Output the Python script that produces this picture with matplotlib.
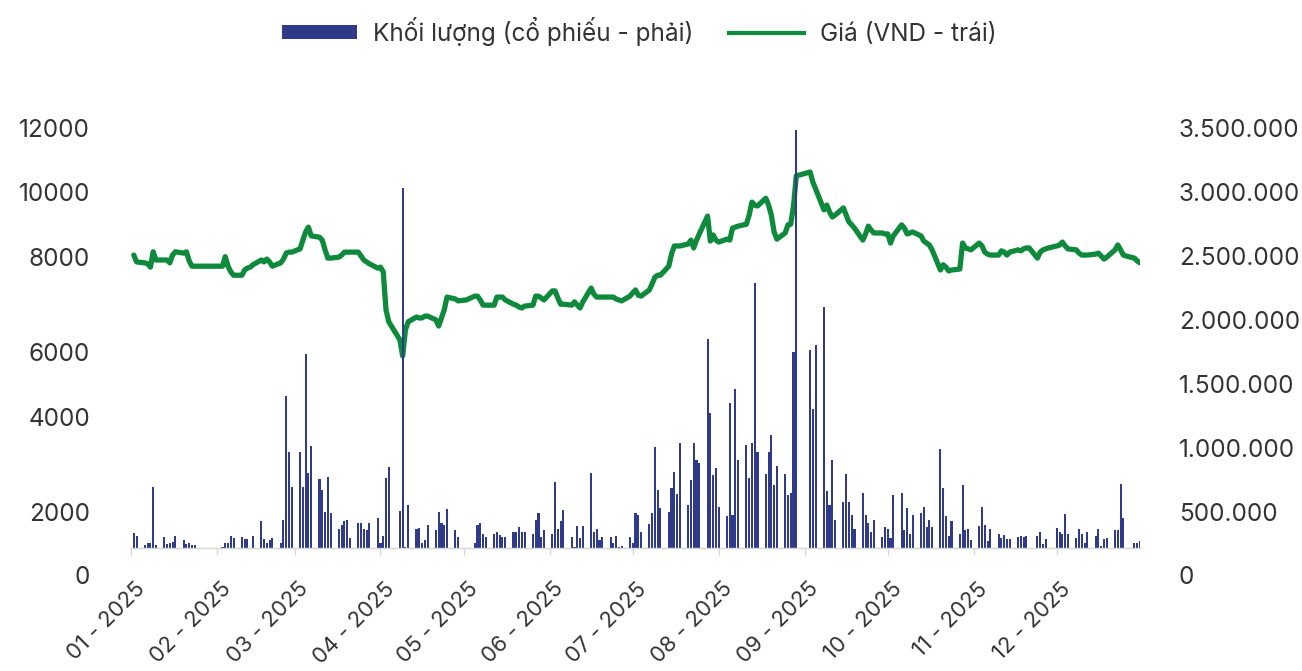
import numpy as np
import pandas as pd
import matplotlib
matplotlib.use("Agg")
import matplotlib.pyplot as plt
import matplotlib.dates as mdates
from matplotlib.ticker import FixedLocator, FuncFormatter
from matplotlib.patches import Patch
from matplotlib.lines import Line2D
from matplotlib.transforms import ScaledTranslation

plt.rcParams['font.family'] = ['Inter', 'DejaVu Sans']

# trading calendar 2025 (weekdays minus exchange holidays)
holidays = ["2025-01-27", "2025-01-28", "2025-01-29", "2025-01-30", "2025-01-31",
            "2025-04-07", "2025-04-30", "2025-05-01", "2025-09-01", "2025-09-02"]
days = pd.bdate_range("2025-01-02", "2025-12-31")
days = days[~days.isin(pd.to_datetime(holidays))]

# closing price (VND), one value per trading day, month by month
price = [
    8050, 7890, 7870, 7850, 7780, 8150, 7930, 7930, 7930, 7870, 8050, 8150, 8110, 8150, 7910, 7800, 7800,
    7800, 8000, 7800, 7680, 7610, 7610, 7720, 7760, 7780, 7830, 7930, 7890, 7950, 7890, 7800, 7870, 7950, 8110, 8140, 8140,
    8240, 8510, 8760, 8910, 8640, 8600, 8510, 8210, 7970, 7970, 7990, 8050, 8140, 8140, 8140, 8140, 8020, 7930, 7890, 7850, 7760,
    7780, 7680, 6880, 6630, 6250, 5870, 6460, 6630, 6730, 6710, 6710, 6750, 6750, 6670, 6540, 6710, 6880, 7150, 7110, 7070,
    7090, 7170, 7170, 7090, 6980, 6980, 6980, 7150, 7150, 7150, 7090, 7000, 6980, 6940, 6920, 6960, 6980, 7170, 7170, 7130, 7090,
    7280, 7280, 7130, 7000, 7000, 6980, 7050, 6980, 6920, 7050, 7340, 7210, 7150, 7150, 7150, 7150, 7150, 7110, 7090, 7070, 7170,
    7240, 7300, 7190, 7170, 7300, 7430, 7570, 7610, 7610, 7800, 8080, 8330, 8330, 8330, 8390, 8510, 8270, 8510, 8700, 9250, 8480, 8670, 8510,
    8450, 8540, 8510, 8880, 8910, 8940, 9000, 9280, 9680, 9590, 9560, 9800, 9590, 9280, 8760, 8540, 8730, 8980, 9000, 9560, 10500,
    10620, 10300, 10085, 9440, 9590, 9380, 9220, 9280, 9500, 9280, 9070, 8980, 8880, 8510, 8700, 8940, 8820, 8730, 8730, 8700,
    8700, 8420, 8640, 8980, 8880, 8700, 8730, 8760, 8640, 8480, 8420, 8360, 8210, 7720, 7830, 7780, 7700, 7720, 7740, 8420, 8270, 8240, 8210,
    8420, 8330, 8140, 8080, 8050, 8050, 8180, 8140, 8050, 8140, 8210, 8180, 8240, 8270, 8270, 7970, 8140, 8210, 8240, 8270,
    8330, 8360, 8450, 8330, 8240, 8210, 8110, 8050, 8050, 8050, 8080, 8110, 8020, 7950, 7990, 8210, 8360, 8210, 8050, 8020, 7970, 7910, 7870,
]

# traded volume (shares), one value per trading day
volume = [
    120000, 95000, 25000, 40000, 45000, 480000, 25000, 85000, 30000, 40000, 50000, 95000, 65000, 30000, 40000, 25000, 25000,
    8000, 45000, 45000, 95000, 80000, 90000, 70000, 70000, 0, 100000, 210000, 70000, 45000, 65000, 80000, 40000, 225000, 1195000, 750000, 480000,
    750000, 480000, 1520000, 590000, 800000, 540000, 455000, 285000, 560000, 275000, 150000, 180000, 210000, 220000, 80000, 200000, 200000, 150000, 140000, 200000, 235000,
    40000, 95000, 550000, 635000, 295000, 2820000, 8000, 335000, 150000, 155000, 40000, 65000, 180000, 140000, 285000, 200000, 180000, 305000, 140000, 90000,
    0, 40000, 180000, 200000, 110000, 85000, 115000, 125000, 105000, 90000, 85000, 125000, 125000, 170000, 125000, 125000, 115000, 225000, 275000, 85000, 140000,
    110000, 515000, 150000, 210000, 300000, 85000, 13000, 175000, 80000, 175000, 590000, 125000, 150000, 65000, 85000, 85000, 45000, 95000, 13000, 18000, 85000,
    40000, 275000, 260000, 125000, 190000, 275000, 795000, 460000, 315000, 285000, 475000, 600000, 425000, 825000, 335000, 535000, 825000, 690000, 670000, 1635000, 1060000, 570000, 630000,
    325000, 250000, 1135000, 260000, 1245000, 690000, 805000, 550000, 825000, 2080000, 750000, 580000, 755000, 885000, 495000, 645000, 580000, 415000, 435000, 1535000, 3270000,
    1555000, 1090000, 1595000, 1885000, 450000, 340000, 690000, 225000, 365000, 580000, 365000, 260000, 150000, 435000, 260000, 195000, 130000, 225000, 90000, 170000,
    150000, 80000, 415000, 435000, 140000, 315000, 115000, 260000, 275000, 320000, 170000, 220000, 165000, 780000, 470000, 255000, 95000, 210000, 115000, 495000, 145000, 150000, 65000,
    175000, 325000, 180000, 55000, 150000, 115000, 80000, 105000, 70000, 70000, 90000, 95000, 85000, 95000, 0, 95000, 125000, 35000, 70000, 0,
    155000, 125000, 115000, 270000, 110000, 80000, 150000, 115000, 40000, 125000, 95000, 150000, 18000, 70000, 80000, 140000, 140000, 505000, 235000, 0, 40000, 45000, 60000,
]
assert len(price) == len(days) == len(volume)

price_ticks = [0, 2000, 4000, 6000, 8000, 10000, 12000]
volume_ticks = [0, 500000, 1000000, 1500000, 2000000, 2500000, 3000000, 3500000]
legend_labels = ["Khối lượng (cổ phiếu - phải)", "Giá (VND - trái)"]

# layout / style
bar_color = "#2f3a8b"
line_color = "#0f8a3c"
text_color = "#333333"
font_size = 17.5
# left labels sit unevenly along the axis in the original chart
price_tick_frac = [0, 0.1427, 0.3551, 0.5004, 0.7129, 0.8582, 1.0]

W, H = 1302, 671
x_left, x_right = 131, 1140
y_top, y_zero_labels, y_zero_bars = 128.3, 575.5, 548.3


def frac_rect(y_bottom):
    return [x_left / W, 1 - y_bottom / H, (x_right - x_left) / W, (y_bottom - y_top) / H]


fig = plt.figure(figsize=(W / 100, H / 100), dpi=100)
xlim = (pd.Timestamp("2025-01-01"), pd.Timestamp("2025-12-31"))

# price axis (left labels)
axp = fig.add_axes(frac_rect(y_zero_labels))
fwd = lambda v: np.interp(v, price_ticks, price_tick_frac)
inv = lambda f: np.interp(f, price_tick_frac, price_ticks)
axp.set_yscale("function", functions=(fwd, inv))
axp.set_ylim(0, 12000)
axp.set_xlim(*xlim)
axp.plot(days, price, color=line_color, lw=3.8, solid_joinstyle="round", solid_capstyle="round")
axp.yaxis.set_major_locator(FixedLocator(price_ticks))
axp.yaxis.set_major_formatter(FuncFormatter(lambda v, p: f"{int(v)}"))
axp.tick_params(axis="y", length=0, pad=29.5, labelsize=font_size, labelcolor=text_color)
axp.set_xticks([])
for s in axp.spines.values():
    s.set_visible(False)

# volume labels (right)
axr = axp.twinx()
axr.set_ylim(0, 3500000)
axr.yaxis.set_major_locator(FixedLocator(volume_ticks))
axr.yaxis.set_major_formatter(FuncFormatter(lambda v, p: f"{int(v):,}".replace(",", ".")))
axr.tick_params(axis="y", length=0, pad=28, labelsize=font_size, labelcolor=text_color)
for s in axr.spines.values():
    s.set_visible(False)

# volume bars, drawn over the price line
axv = fig.add_axes(frac_rect(y_zero_bars))
axv.set_zorder(3)
axv.patch.set_visible(False)
vol_scale = 3500000 / (y_zero_labels - y_top)
axv.set_ylim(0, vol_scale * (y_zero_bars - y_top))
axv.set_xlim(*xlim)
axv.bar(days, volume, width=0.75, color=bar_color, linewidth=0)
axv.set_yticks([])
for k in ["top", "left", "right"]:
    axv.spines[k].set_visible(False)
axv.spines["bottom"].set_color("#d6d6d6")
axv.spines["bottom"].set_linewidth(1)
axv.xaxis.set_major_locator(mdates.MonthLocator())
axv.xaxis.set_major_formatter(mdates.DateFormatter("%m - %Y"))
axv.tick_params(axis="x", length=5, width=1, color="#d6d6d6", labelsize=16,
                labelcolor=text_color, pad=4)
shift = ScaledTranslation(11 / 100, -25 / 100, fig.dpi_scale_trans)
for lab in axv.get_xticklabels():
    lab.set_rotation(45)
    lab.set_ha("right")
    lab.set_va("center")
    lab.set_rotation_mode("anchor")
    lab.set_transform(lab.get_transform() + shift)

handles = [Patch(facecolor=bar_color, edgecolor="none"),
           Line2D([], [], color=line_color, lw=3)]
fig.legend(handles, legend_labels, loc="upper center", bbox_to_anchor=(0.491, 1.008),
           ncol=2, frameon=False, fontsize=font_size, labelcolor=text_color,
           handlelength=3.1, handleheight=0.5, handletextpad=0.65, columnspacing=1.45)

fig.savefig("out.png", dpi=100)
